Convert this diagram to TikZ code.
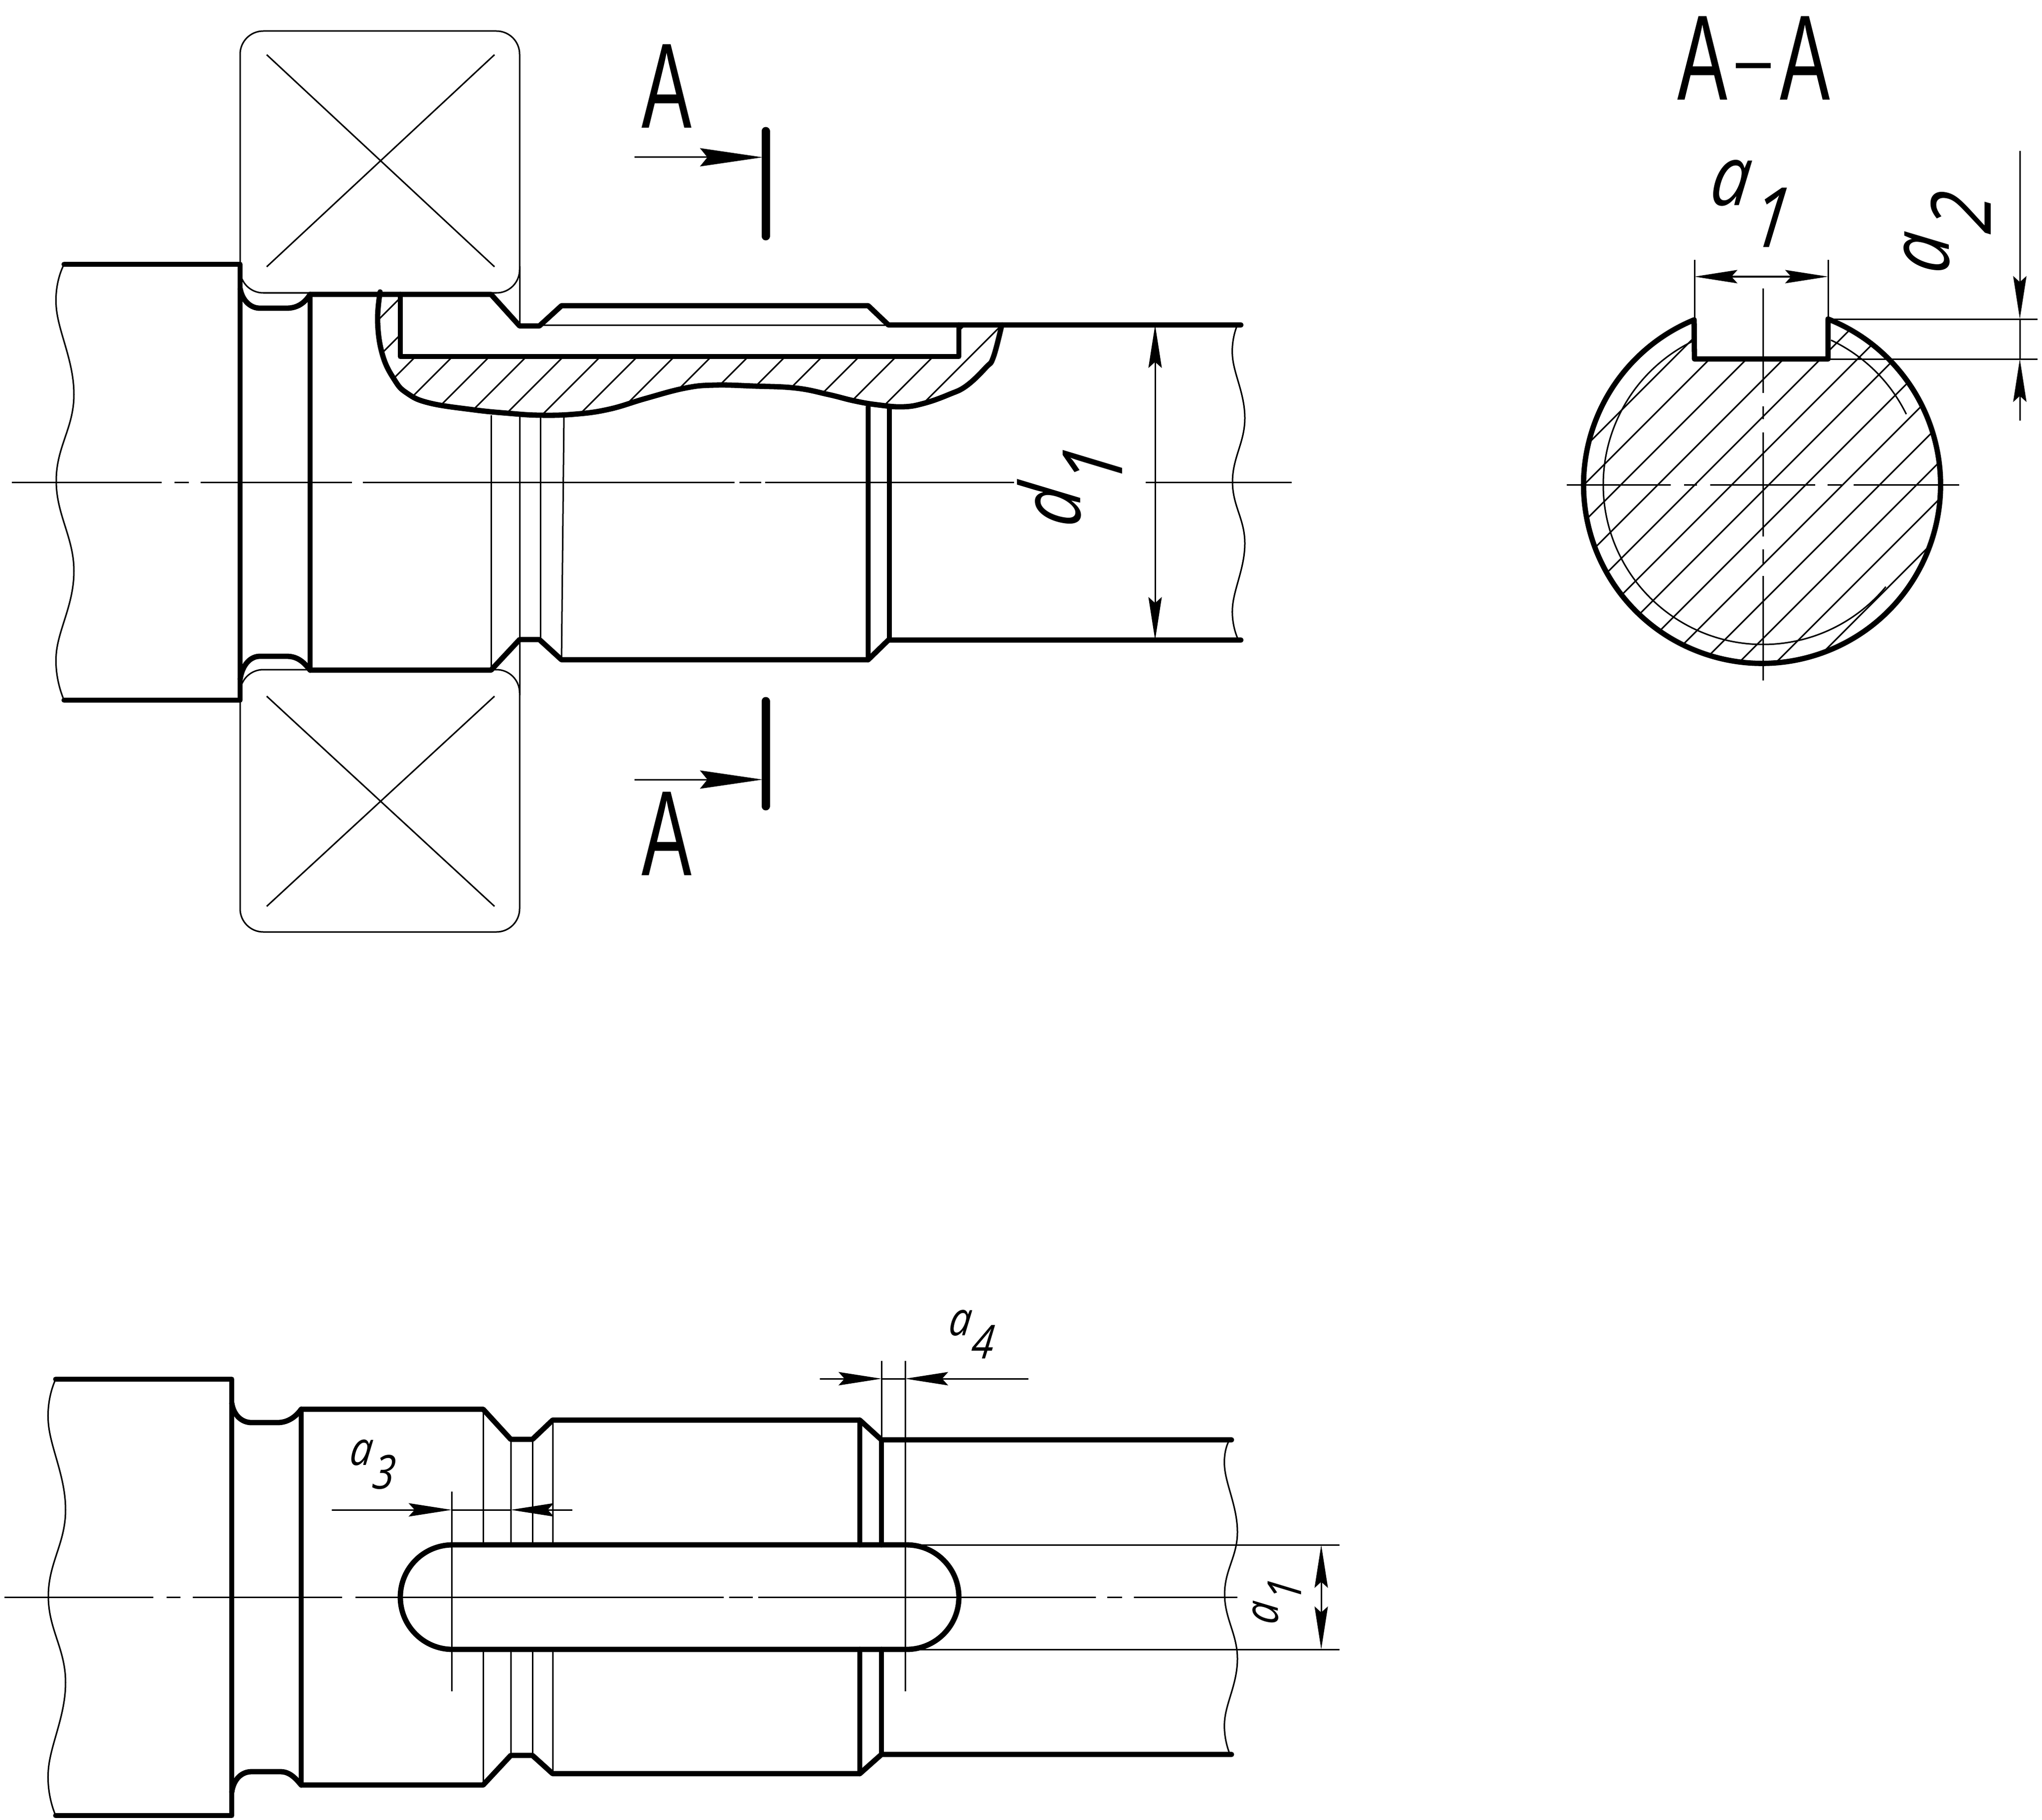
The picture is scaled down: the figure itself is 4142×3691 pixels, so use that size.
\documentclass[tikz,border=0pt]{standalone}
\usepackage{fontspec}
\usepackage{graphicx}
\usetikzlibrary{arrows.meta}
\newfontfamily\letterfont{Liberation Sans}[FakeStretch=0.62]
\newfontfamily\dimfont{Open Sans}[FakeStretch=0.85,FakeSlant=0.12]
\newcommand{\dimtext}[2]{#1\raisebox{-.5em}{#2}}
\tikzset{
  main/.style={line width=.108cm,line cap=round,line join=round},
  fine/.style={line width=.03cm},
  axis/.style={line width=.03cm},
  hatchline/.style={line width=.03cm},
  dimline/.style={line width=.03cm,-{Stealth[length=.87cm,width=.27cm,inset=.12cm]}},
  dimboth/.style={line width=.03cm,{Stealth[length=.87cm,width=.27cm,inset=.12cm]}-{Stealth[length=.87cm,width=.27cm,inset=.12cm]}},
  cutline/.style={line width=.03cm,-{Stealth[length=1.27cm,width=.37cm,inset=.15cm]}},
  cuttick/.style={line width=.17cm,line cap=round},
  bigletter/.style={font=\letterfont\fontsize{70}{70}\selectfont,inner sep=0pt},
  bigdim/.style={font=\dimfont\itshape\fontsize{48}{48}\selectfont,inner sep=0pt},
  smalldim/.style={font=\dimfont\itshape\fontsize{27}{27}\selectfont,inner sep=0pt},
}
\begin{document}
\begin{tikzpicture}[x=0.01cm,y=-0.01cm]
  \useasboundingbox (0,0) rectangle (4142,3691);

  \coordinate (hubC) at (3576,983);
  \coordinate (bearTL) at (487,63);
  \coordinate (bearTR) at (1054,594);
  \coordinate (bearBL) at (487,1358);
  \coordinate (bearBR) at (1054,1890);

  \draw[fine,rounded corners=.47cm] (bearTL) rectangle (bearTR);
  \draw[fine,rounded corners=.47cm] (bearBL) rectangle (bearBR);
  \draw[fine] (541,541) -- (1003,111);
  \draw[fine] (541,111) -- (1003,541);
  \draw[fine] (541,1412) -- (1003,1838);
  \draw[fine] (541,1838) -- (1003,1412);
  \draw[fine] (1054,540) -- (1054,661);
  \draw[fine] (1054,840) -- (1054,1410);

  \foreach \a/\b in {24/328,354/383,407/714,736/1490,1500/1544,1552/2057,2324/2620}
    \draw[axis] (\a,978) -- (\b,978);

  \begin{scope}
    \clip (771,597) -- plot[smooth,tension=.7] coordinates {(771,592) (766,653) (776,720) (800,770) (825,797) (870,817) (960,831) (1030,838) (1094,842) (1165,840) (1235,830) (1310,808) (1390,787) (1450,781) (1530,783) (1614,787) (1680,800) (1733,813) (1780,821) (1831,825) (1874,818) (1925,800) (1961,782) (2000,745) (2015,724) (2032,659)} -- (1945,659) -- (1945,723) -- (812,723) -- (812,597) -- cycle;
    \foreach \s in {1416,1491,...,2700}
      \draw[hatchline] (\s-900,900) -- (\s-500,500);
  \end{scope}

  \draw[fine] plot[smooth,tension=.7] coordinates {(130,536) (114,622) (150,800) (114,975) (150,1158) (114,1327) (130,1420)};
  \draw[fine] plot[smooth,tension=.7] coordinates {(2510,659) (2500,723) (2525,848) (2500,977) (2525,1102) (2500,1232) (2512,1298)};
  \draw[fine] (1094,659) -- (1802,659);
  \draw[fine] (996,842) -- (996,1359);
  \draw[fine] (1096,842) -- (1096,1297);
  \draw[fine] (1144,842) -- (1139,1338);

  \draw[main] (130,536) -- (487,536) -- (487,1420) -- (130,1420);
  \draw[main] (629,597) -- (629,1359);
  \draw[main] (629,597) -- (996,597) -- (1054,661) -- (1094,661) -- (1139,620) -- (1761,620) -- (1802,659) -- (2517,659);
  \draw[main] (629,1359) -- (996,1359) -- (1054,1297) -- (1094,1297) -- (1139,1338) -- (1761,1338) -- (1802,1298) -- (2517,1298);
  \draw[main] (487,585) .. controls (492,612) and (510,625) .. (527,625) -- (582,625) .. controls (605,625) and (620,612) .. (629,597);
  \draw[main] (487,1378) .. controls (492,1345) and (510,1331) .. (527,1331) -- (582,1331) .. controls (605,1331) and (618,1345) .. (629,1359);
  \draw[main] (812,597) -- (812,723) -- (1945,723) -- (1945,659);
  \draw[main] plot[smooth,tension=.7] coordinates {(771,592) (766,653) (776,720) (800,770) (825,797) (870,817) (960,831) (1030,838) (1094,842) (1165,840) (1235,830) (1310,808) (1390,787) (1450,781) (1530,783) (1614,787) (1680,800) (1733,813) (1780,821) (1831,825) (1874,818) (1925,800) (1961,782) (2000,745) (2015,724) (2032,659)};
  \draw[main] (1761,825) -- (1761,1338);
  \draw[main] (1804,825) -- (1804,1298);

  \coordinate (d1top) at (2343,659);
  \coordinate (d1bot) at (2343,1298);
  \draw[dimboth] (d1top) -- (d1bot);
  \node[bigdim,rotate=90] (labD) at (2170,992) {\dimtext{d}{1}};

  \node[bigletter] (labAtop) at (1352,175) {A};
  \node[bigletter] (labAbot) at (1352,1691) {A};
  \coordinate (cutTa) at (1287,319);
  \coordinate (cutTb) at (1547,319);
  \coordinate (cutBa) at (1287,1581);
  \coordinate (cutBb) at (1547,1581);
  \draw[cutline] (cutTa) -- (cutTb);
  \draw[cutline] (cutBa) -- (cutBb);
  \draw[cuttick] (1553,266) -- (1553,479);
  \draw[cuttick] (1553,1422) -- (1553,1635);

  \node[bigletter] (labAA) at (3557,118) {A\kern.02em\raisebox{.135em}{\scalebox{1.9}[.55]{-}}\kern.02em A};
  \begin{scope}
    \clip (3708,647) arc[start angle=-68.3,end angle=247.6,radius=362] -- (3437,728) -- (3708,728) -- cycle;
    \foreach \s in {4121,4196,...,5040}
      \draw[hatchline] (\s-1400,1400) -- (\s-600,600);
  \end{scope}
  \draw[fine] (hubC) ++(-116.3:324) arc[start angle=-116.3,end angle=-320.3,radius=324];
  \draw[fine] (hubC) ++(-64.8:324) arc[start angle=-64.8,end angle=-26.2,radius=324];
  \foreach \a/\b in {3178/3389,3416/3442,3469/3682,3707/3736,3760/3974}
    \draw[axis] (\a,983) -- (\b,983);
  \foreach \a/\b in {585/797,824/850,877/1088,1114/1143,1168/1380}
    \draw[axis] (3576,\a) -- (3576,\b);
  \draw[main] (3708,647) arc[start angle=-68.3,end angle=247.6,radius=362] -- (3437,728) -- (3708,728) -- cycle;

  \coordinate (a1left) at (3437,561);
  \coordinate (a1right) at (3708,561);
  \draw[fine] (3437,527) -- (3437,647);
  \draw[fine] (3708,527) -- (3708,647);
  \draw[dimboth] (a1left) -- (a1right);
  \node[bigdim] (labA1) at (3546,413) {\dimtext{a}{1}};

  \coordinate (a2top) at (4097,306);
  \coordinate (a2upper) at (4097,647);
  \coordinate (a2lower) at (4097,728);
  \coordinate (a2bot) at (4097,853);
  \draw[fine] (3708,647) -- (4133,647);
  \draw[fine] (3708,728) -- (4133,728);
  \draw[dimline] (a2top) -- (a2upper);
  \draw[dimline] (a2bot) -- (a2lower);
  \draw[fine] (a2upper) -- (a2lower);
  \node[bigdim,rotate=90] (labA2) at (3950,478) {\dimtext{a}{2}};

  \foreach \a/\b in {9/311,338/366,391/694,721/1468,1479/1527,1538/2223,2246/2276,2300/2510}
    \draw[axis] (\a,3239) -- (\b,3239);
  \draw[fine] plot[smooth,tension=.7] coordinates {(113,2797) (98,2885) (133,3062) (98,3237) (133,3412) (98,3590) (113,3682)};
  \draw[fine] plot[smooth,tension=.7] coordinates {(2494,2920) (2484,2976) (2510,3107) (2484,3233) (2510,3364) (2484,3490) (2495,3558)};

  \draw[fine] (980,2858) -- (980,3133);
  \draw[fine] (1036,2919) -- (1036,3133);
  \draw[fine] (1080,2919) -- (1080,3133);
  \draw[fine] (1121,2880) -- (1121,3133);
  \draw[fine] (980,3345) -- (980,3620);
  \draw[fine] (1036,3345) -- (1036,3560);
  \draw[fine] (1080,3345) -- (1080,3560);
  \draw[fine] (1121,3345) -- (1121,3597);

  \draw[main] (113,2797) -- (470,2797) -- (470,3682) -- (113,3682);
  \draw[main] (611,2858) -- (611,3620);
  \draw[main] (611,2858) -- (980,2858) -- (1036,2919) -- (1080,2919) -- (1121,2880) -- (1744,2880) -- (1788,2920) -- (2498,2920);
  \draw[main] (611,3620) -- (980,3620) -- (1036,3560) -- (1080,3560) -- (1121,3597) -- (1744,3597) -- (1788,3558) -- (2498,3558);
  \draw[main] (470,2845) .. controls (474,2872) and (492,2885) .. (510,2885) -- (563,2885) .. controls (585,2885) and (601,2872) .. (611,2858);
  \draw[main] (470,3635) .. controls (474,3606) and (492,3593) .. (510,3593) -- (569,3593) .. controls (588,3593) and (600,3607) .. (611,3620);
  \draw[main] (1744,2880) -- (1744,3133);
  \draw[main] (1788,2920) -- (1788,3133);
  \draw[main] (1744,3345) -- (1744,3597);
  \draw[main] (1788,3345) -- (1788,3558);
  \draw[main] (918,3133) -- (1839,3133) arc[start angle=-90,end angle=90,radius=106] -- (918,3345) arc[start angle=90,end angle=270,radius=106] -- cycle;

  \draw[fine] (916,3025) -- (916,3430);
  \draw[fine] (1836,2760) -- (1836,3430);
  \draw[fine] (1788,2760) -- (1788,2920);
  \draw[fine] (1836,3133) -- (2717,3133);
  \draw[fine] (1836,3345) -- (2717,3345);

  \coordinate (a3left) at (673,3062);
  \coordinate (a3tipL) at (916,3062);
  \coordinate (a3right) at (1161,3062);
  \coordinate (a3tipR) at (1036,3062);
  \draw[dimline] (a3left) -- (a3tipL);
  \draw[dimline] (a3right) -- (a3tipR);
  \draw[fine] (a3tipL) -- (a3tipR);
  \node[smalldim] (labA3) at (753,2970) {\dimtext{a}{3}};

  \coordinate (a4left) at (1663,2796);
  \coordinate (a4tipL) at (1788,2796);
  \coordinate (a4right) at (2086,2796);
  \coordinate (a4tipR) at (1836,2796);
  \draw[dimline] (a4left) -- (a4tipL);
  \draw[dimline] (a4right) -- (a4tipR);
  \draw[fine] (a4tipL) -- (a4tipR);
  \node[smalldim] (labA4) at (1968,2706) {\dimtext{a}{4}};

  \coordinate (a1top) at (2680,3133);
  \coordinate (a1bot) at (2680,3345);
  \draw[dimboth] (a1top) -- (a1bot);
  \node[smalldim,rotate=90] (labA1b) at (2590,3251) {\dimtext{a}{1}};
\end{tikzpicture}
\end{document}
